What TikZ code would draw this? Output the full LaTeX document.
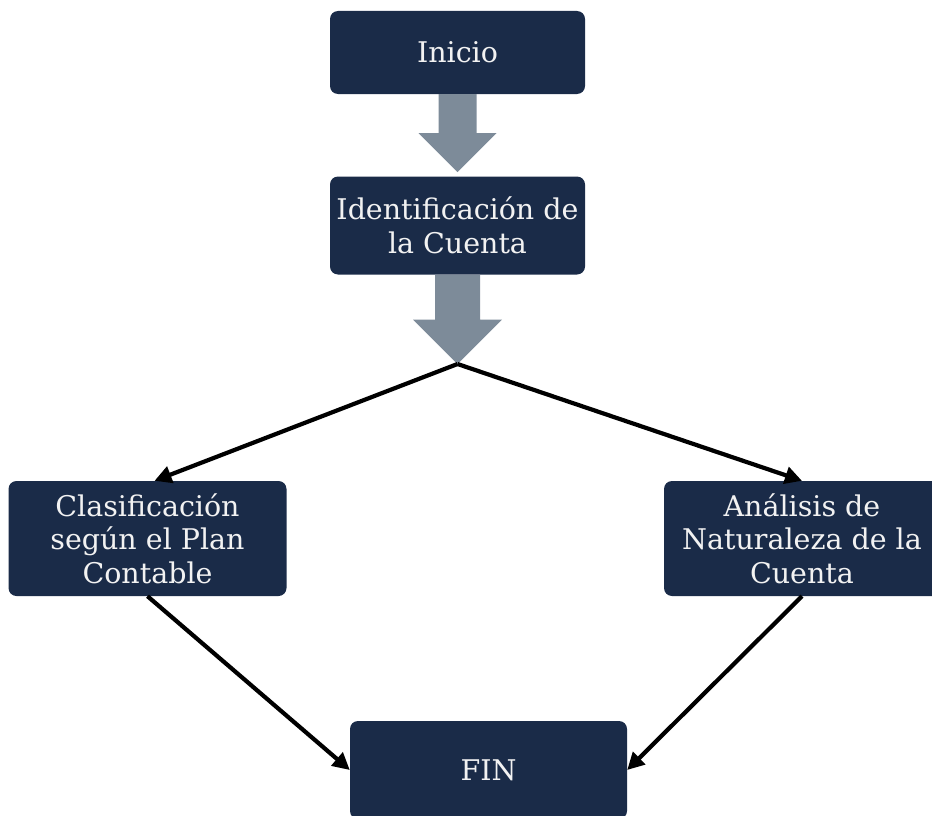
\documentclass[tikz,border=0pt]{standalone}
\usepackage{fontspec}
\setmainfont{DejaVu Serif}
\usetikzlibrary{arrows.meta,calc}
\definecolor{navy}{HTML}{1A2B48}
\definecolor{steel}{HTML}{7D8B99}
\definecolor{boxtext}{HTML}{F2F2F2}
\begin{document}
\begin{tikzpicture}[x=1pt,y=-1pt,
  box/.style={fill=navy, rounded corners=8pt, text=boxtext, align=center,
    font=\fontsize{28.5}{33.5}\selectfont, inner sep=0pt},
  conn/.style={line width=4.2pt, -{Triangle[length=17pt,width=17pt]}},
  blockarrow/.style={fill=steel, draw=none}]
\useasboundingbox (0,0) rectangle (932,816);
\node[box, minimum width=255pt, minimum height=83pt] (inicio) at (457.5,52.5) {Inicio};
\node[box, minimum width=255pt, minimum height=98pt] (ident) at (457.5,225.5) {Identificación de\\la Cuenta};
\node[box, minimum width=278pt, minimum height=115pt] (clas) at (147.5,538.5) {Clasificación\\según el Plan\\Contable};
\node[box, minimum width=276pt, minimum height=115pt] (anal) at (802,538.5) {Análisis de\\Naturaleza de la\\Cuenta};
\node[box, minimum width=277pt, minimum height=98pt] (fin) at (488.5,770) {FIN};
% block arrow 1
\fill[blockarrow] ($(inicio.south)+(-19,0)$) -- ($(inicio.south)+(19,0)$) -- ($(inicio.south)+(19,39)$)
  -- ($(inicio.south)+(39,39)$) -- ($(inicio.south)+(0,78)$) -- ($(inicio.south)+(-39,39)$)
  -- ($(inicio.south)+(-19,39)$) -- cycle;
% block arrow 2
\coordinate (br) at (457.5,364);
\fill[blockarrow] ($(ident.south)+(-22.5,0)$) -- ($(ident.south)+(22.5,0)$) -- ($(ident.south)+(22.5,45)$)
  -- ($(ident.south)+(44.5,45)$) -- (br) -- ($(ident.south)+(-44.5,45)$)
  -- ($(ident.south)+(-22.5,45)$) -- cycle;
\draw[conn] (br) -- ($(clas.north)+(7,0)$);
\draw[conn] (br) -- (anal.north);
\draw[conn] (clas.south) -- (fin.west);
\draw[conn] (anal.south) -- (fin.east);
\end{tikzpicture}
\end{document}
